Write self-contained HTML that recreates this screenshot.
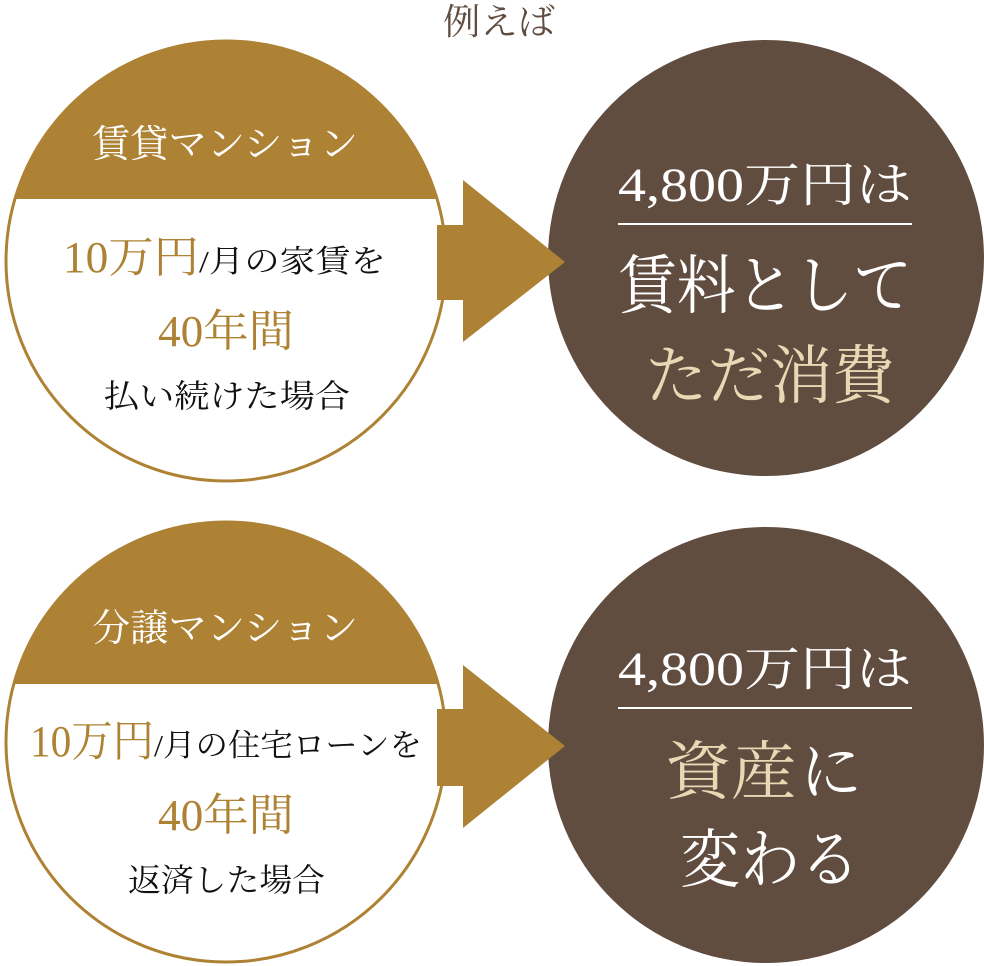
<!DOCTYPE html>
<html><head><meta charset="utf-8"><style>
html,body{margin:0;padding:0;background:#fff;}
svg{display:block;}
text{font-family:"Liberation Serif","Noto Serif CJK JP","Noto Serif CJK SC",serif;}
</style></head><body>
<svg width="984" height="966" viewBox="0 0 984 966" xmlns="http://www.w3.org/2000/svg">
<defs>
<clipPath id="c1"><circle cx="226" cy="261" r="220"/></clipPath>
<clipPath id="c2"><circle cx="226" cy="742" r="220"/></clipPath>
</defs>
<text x="443" y="34" font-size="36" fill="#614c40" textLength="112" lengthAdjust="spacingAndGlyphs">例えば</text>

<!-- top left -->
<circle cx="226" cy="261" r="220" fill="#fff"/>
<rect x="0" y="0" width="460" height="199" fill="#ae8234" clip-path="url(#c1)"/>
<circle cx="226" cy="261" r="220" fill="none" stroke="#ae8234" stroke-width="3"/>
<text x="92" y="157" font-size="38" fill="#fff" textLength="266" lengthAdjust="spacingAndGlyphs">賃貸マンション</text>
<text x="63" y="272" font-size="44" fill="#ae8234" textLength="136" lengthAdjust="spacingAndGlyphs">10万円</text>
<text x="199" y="272" font-size="31" fill="#111" textLength="187" lengthAdjust="spacingAndGlyphs">/月の家賃を</text>
<text x="158" y="346" font-size="44" fill="#ae8234" textLength="136" lengthAdjust="spacingAndGlyphs">40年間</text>
<text x="104" y="407" font-size="32" fill="#111" textLength="246" lengthAdjust="spacingAndGlyphs">払い続けた場合</text>

<!-- top right -->
<circle cx="766" cy="258" r="218" fill="#614c40"/>
<text x="618" y="201" font-size="48" fill="#fff" textLength="294" lengthAdjust="spacingAndGlyphs">4,800万円は</text>
<rect x="618" y="223" width="294" height="2" fill="#fff"/>
<text x="618" y="308" font-size="64" fill="#fff" textLength="294" lengthAdjust="spacingAndGlyphs">賃料として</text>
<text x="645" y="398" font-size="64" fill="#e8d8b3" textLength="250" lengthAdjust="spacingAndGlyphs">ただ消費</text>

<!-- top arrow -->
<rect x="437" y="225" width="30" height="75" fill="#ae8234"/>
<polygon points="463,180 565,262 463,342" fill="#ae8234"/>

<!-- bottom left -->
<circle cx="226" cy="742" r="220" fill="#fff"/>
<rect x="0" y="400" width="460" height="284" fill="#ae8234" clip-path="url(#c2)"/>
<circle cx="226" cy="742" r="220" fill="none" stroke="#ae8234" stroke-width="3"/>
<text x="92" y="641" font-size="38" fill="#fff" textLength="266" lengthAdjust="spacingAndGlyphs">分譲マンション</text>
<text x="30" y="756" font-size="44" fill="#ae8234" textLength="124" lengthAdjust="spacingAndGlyphs">10万円</text>
<text x="154" y="756" font-size="31" fill="#111" textLength="268" lengthAdjust="spacingAndGlyphs">/月の住宅ローンを</text>
<text x="158" y="830" font-size="44" fill="#ae8234" textLength="136" lengthAdjust="spacingAndGlyphs">40年間</text>
<text x="128" y="891" font-size="32" fill="#111" textLength="197" lengthAdjust="spacingAndGlyphs">返済した場合</text>

<!-- bottom right -->
<circle cx="766" cy="745" r="218" fill="#614c40"/>
<text x="618" y="685" font-size="48" fill="#fff" textLength="294" lengthAdjust="spacingAndGlyphs">4,800万円は</text>
<rect x="618" y="707" width="294" height="2" fill="#fff"/>
<text x="665" y="794" font-size="64" fill="#e8d8b3" textLength="132" lengthAdjust="spacingAndGlyphs">資産</text>
<text x="800" y="794" font-size="64" fill="#fff" textLength="62" lengthAdjust="spacingAndGlyphs">に</text>
<text x="680" y="882" font-size="64" fill="#fff" textLength="180" lengthAdjust="spacingAndGlyphs">変わる</text>

<!-- bottom arrow -->
<rect x="437" y="709" width="30" height="77" fill="#ae8234"/>
<polygon points="463,665 565,746 463,828" fill="#ae8234"/>
</svg>
</body></html>
